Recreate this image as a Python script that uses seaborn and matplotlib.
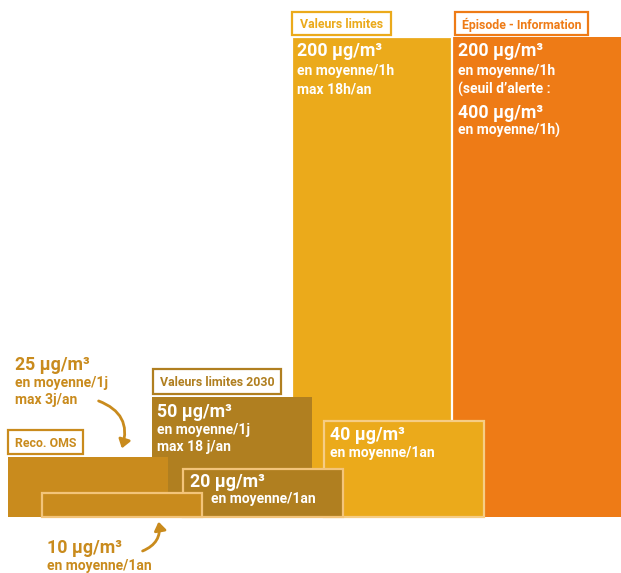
import matplotlib
matplotlib.use("Agg")
import matplotlib.pyplot as plt
from matplotlib.patches import Rectangle, FancyArrowPatch
import seaborn as sns

# ---- data ----
series = ["Valeurs limites", "Épisode - Information", "Valeurs limites", "Valeurs limites 2030",
          "Reco. OMS", "Valeurs limites 2030", "Reco. OMS"]
values = [200, 200, 40, 50, 25, 20, 10]          # µg/m3
periods = ["1h", "1h", "1an", "1j", "1j", "1an", "1an"]

# ---- layout / style (not data) ----
lefts = [292, 451, 324, 152, 8, 183, 42]
widths = [160, 172, 160, 160, 160, 160, 160]
colors = ["#EBAA1B", "#EE7B16", "#EBAA1B", "#B07F20", "#C98B1D", "#B07F20", "#C98B1D"]
edges = ["white", "none", "#F6CD85", "none", "none", "#F3C47A", "#F3C47A"]
draw_order = [1, 0, 2, 3, 4, 5, 6]

sns.set_theme(style="white")
plt.rcParams["font.family"] = ["Roboto", "DejaVu Sans"]

W, H = 621, 573
BASE = 517
SCALE = 2.4
fig = plt.figure(figsize=(W / 100, H / 100), dpi=100)
ax = fig.add_axes([0, 0, 1, 1])
ax.set_xlim(0, W)
ax.set_ylim(-(H - BASE) / SCALE, BASE / SCALE)
ax.axis("off")


def py(y):
    return (BASE - y) / SCALE


for z, i in enumerate(draw_order):
    ax.bar(lefts[i], values[i], width=widths[i], align="edge", color=colors[i],
           edgecolor=edges[i], linewidth=1.6 if edges[i] != "none" else 0, zorder=2 + z)

BIG = 12.8
SMALL = 10
TOP = 20


def txt(x, y, s, size, color="white"):
    ax.text(x, py(y), s, fontsize=size, color=color, fontweight="bold",
            ha="left", va="baseline", zorder=TOP)


# inside texts
txt(297, 56, f"{values[0]} µg/m³", BIG)
txt(297, 75, f"en moyenne/{periods[0]}", SMALL)
txt(297, 94, "max 18h/an", SMALL)

txt(458, 56, f"{values[1]} µg/m³", BIG)
txt(458, 75, f"en moyenne/{periods[1]}", SMALL)
txt(458, 94, "(seuil d’alerte :", SMALL)
txt(458, 118, "400 µg/m³", BIG)
txt(458, 135, f"en moyenne/{periods[1]})", SMALL)

txt(330, 440, f"{values[2]} µg/m³", BIG)
txt(330, 457, f"en moyenne/{periods[2]}", SMALL)

txt(157, 417, f"{values[3]} µg/m³", BIG)
txt(157, 434, f"en moyenne/{periods[3]}", SMALL)
txt(157, 451, "max 18 j/an", SMALL)

txt(190, 487, f"{values[5]} µg/m³", BIG)
txt(211, 503, f"en moyenne/{periods[5]}", SMALL)

# outside texts
oms = colors[4]
txt(15, 370, f"{values[4]} µg/m³", BIG, oms)
txt(15, 387, f"en moyenne/{periods[4]}", SMALL, oms)
txt(15, 404, "max 3j/an", SMALL, oms)

txt(47, 553, f"{values[6]} µg/m³", BIG, oms)
txt(47, 570, f"en moyenne/{periods[6]}", SMALL, oms)

# label boxes
LABEL = 8.9
boxes = [(292, 12, 391, 35, series[0], colors[0]),
         (455, 12, 588, 35, series[1], colors[1]),
         (153, 369, 281, 394, series[3], colors[3]),
         (8, 430, 83, 454, series[4], colors[4])]
for x0, y0, x1, y1, s, c in boxes:
    ax.add_patch(Rectangle((x0, py(y1)), x1 - x0, py(y0) - py(y1), facecolor="white",
                           edgecolor=c, linewidth=1.6, zorder=TOP))
    ax.text((x0 + x1) / 2, (py(y0) + py(y1)) / 2, s, fontsize=LABEL, color=c,
            fontweight="bold", ha="center", va="center_baseline", zorder=TOP + 1)

# arrows
ax.add_patch(FancyArrowPatch((96, py(400)), (121, py(451)), connectionstyle="arc3,rad=-0.5",
                             arrowstyle="-|>,head_length=5,head_width=3.5", color=oms,
                             linewidth=2, zorder=TOP))
ax.add_patch(FancyArrowPatch((140, py(552)), (158, py(519)), connectionstyle="arc3,rad=0.45",
                             arrowstyle="-|>,head_length=5,head_width=3.5", color=oms,
                             linewidth=2, zorder=TOP))

fig.savefig("out.png", dpi=100)
